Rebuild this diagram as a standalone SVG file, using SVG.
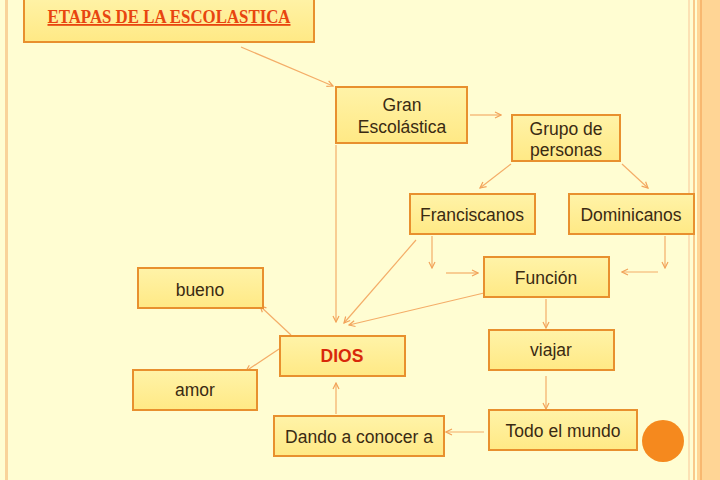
<svg xmlns="http://www.w3.org/2000/svg" width="720" height="480" viewBox="0 0 720 480">
<defs>
<linearGradient id="bx" x1="0" y1="0" x2="0" y2="1">
<stop offset="0" stop-color="#FFF3A8"/>
<stop offset="1" stop-color="#FFE985"/>
</linearGradient>
<marker id="ah" markerWidth="8" markerHeight="8" refX="7" refY="4" orient="auto" markerUnits="userSpaceOnUse">
<path d="M1,1 L7,4 L1,7" fill="none" stroke="#F2A35A" stroke-width="1.2"/>
</marker>
</defs>
<style>
.box{fill:url(#bx);stroke:#E8902E;stroke-width:2}
.t{font-family:"Liberation Sans",Arial,sans-serif;font-size:17.5px;fill:#3A2A12;text-anchor:middle}
.c{fill:none;stroke:#F4AD68;stroke-width:1.2}
</style>
<rect width="720" height="480" fill="#FFFDD2"/>
<rect x="5" y="0" width="3" height="480" fill="#F9D39A"/>
<rect x="688" y="0" width="2" height="480" fill="#FCE1B4"/>
<rect x="693" y="0" width="2" height="480" fill="#F9C98A"/>
<rect x="697" y="0" width="23" height="480" fill="#FFD595"/>
<rect x="700" y="0" width="2" height="480" fill="#F8B870"/>

<g id="connectors">
<line class="c" x1="241" y1="47" x2="333" y2="86" marker-end="url(#ah)"/>
<line class="c" x1="470" y1="115" x2="501" y2="115" marker-end="url(#ah)"/>
<line class="c" x1="511" y1="164" x2="480" y2="188" marker-end="url(#ah)"/>
<line class="c" x1="622" y1="164" x2="648" y2="188" marker-end="url(#ah)"/>
<line class="c" x1="432" y1="236" x2="432" y2="268" marker-end="url(#ah)"/>
<line class="c" x1="446" y1="273" x2="478" y2="273" marker-end="url(#ah)"/>
<line class="c" x1="665" y1="236" x2="665" y2="268" marker-end="url(#ah)"/>
<line class="c" x1="658" y1="272" x2="622" y2="272" marker-end="url(#ah)"/>
<line class="c" x1="336" y1="145" x2="336" y2="322" marker-end="url(#ah)"/>
<line class="c" x1="416" y1="240" x2="344" y2="323" marker-end="url(#ah)"/>
<line class="c" x1="484" y1="293" x2="349" y2="325" marker-end="url(#ah)"/>
<line class="c" x1="291" y1="335" x2="260" y2="306" marker-end="url(#ah)"/>
<line class="c" x1="279" y1="349" x2="246" y2="371" marker-end="url(#ah)"/>
<line class="c" x1="546" y1="299" x2="546" y2="328" marker-end="url(#ah)"/>
<line class="c" x1="546" y1="376" x2="546" y2="409" marker-end="url(#ah)"/>
<line class="c" x1="484" y1="432" x2="446" y2="432" marker-end="url(#ah)"/>
<line class="c" x1="336" y1="414" x2="336" y2="383" marker-end="url(#ah)"/>
</g>

<g id="title">
<rect class="box" x="24" y="-4" width="290" height="46"/>
<text x="169" y="23" font-family="'Liberation Serif','Times New Roman',serif" font-size="18" font-weight="bold" fill="#E8450F" text-anchor="middle" text-decoration="underline" textLength="243" lengthAdjust="spacingAndGlyphs">ETAPAS DE LA ESCOLASTICA</text>
</g>
<g id="gran">
<rect class="box" x="336" y="87" width="131" height="56"/>
<text class="t" x="402" y="111">Gran</text>
<text class="t" x="402" y="133">Escolástica</text>
</g>
<g id="grupo">
<rect class="box" x="512" y="115" width="108" height="46"/>
<text class="t" x="566" y="135">Grupo de</text>
<text class="t" x="566" y="156">personas</text>
</g>
<g id="franciscanos">
<rect class="box" x="410" y="194" width="125" height="40"/>
<text class="t" x="472" y="221">Franciscanos</text>
</g>
<g id="dominicanos">
<rect class="box" x="569" y="194" width="125" height="40"/>
<text class="t" x="631" y="221">Dominicanos</text>
</g>
<g id="funcion">
<rect class="box" x="484" y="257" width="125" height="40"/>
<text class="t" x="546" y="284">Función</text>
</g>
<g id="bueno">
<rect class="box" x="138" y="268" width="125" height="40"/>
<text class="t" x="200" y="296">bueno</text>
</g>
<g id="dios">
<rect class="box" x="280" y="336" width="125" height="40"/>
<text class="t" x="342" y="362" font-weight="bold" style="fill:#D8280A">DIOS</text>
</g>
<g id="amor">
<rect class="box" x="133" y="370" width="124" height="40"/>
<text class="t" x="195" y="396">amor</text>
</g>
<g id="viajar">
<rect class="box" x="489" y="330" width="125" height="40"/>
<text class="t" x="551" y="356">viajar</text>
</g>
<g id="todo">
<rect class="box" x="489" y="410" width="148" height="40"/>
<text class="t" x="563" y="437">Todo el mundo</text>
</g>
<g id="dando">
<rect class="box" x="274" y="416" width="170" height="40"/>
<text class="t" x="359" y="443">Dando a conocer a</text>
</g>
<circle cx="663" cy="441" r="21" fill="#F5891E"/>
</svg>
